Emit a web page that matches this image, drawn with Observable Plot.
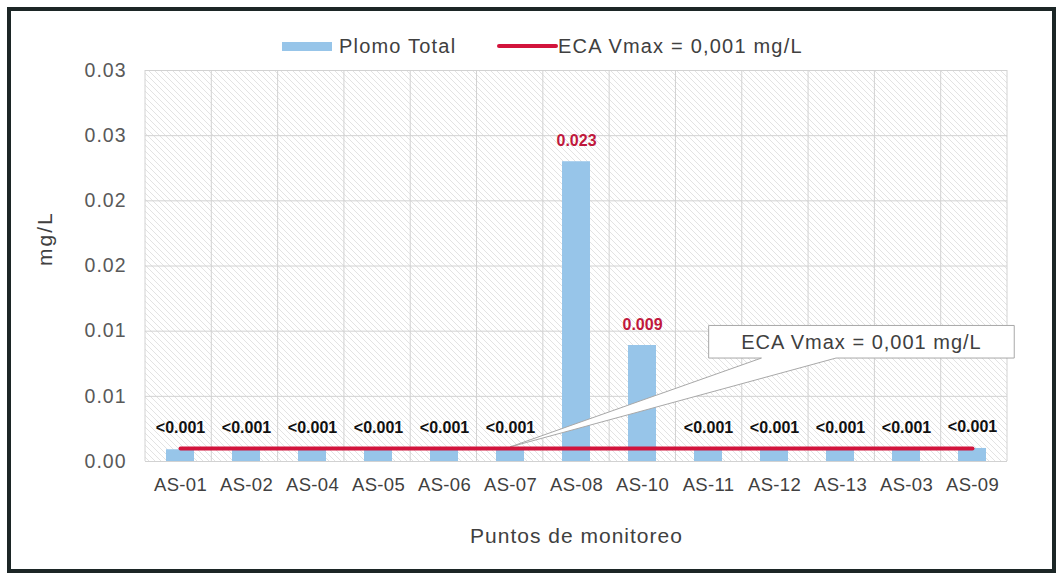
<!DOCTYPE html>
<html>
<head>
<meta charset="utf-8">
<script src="https://cdn.jsdelivr.net/npm/d3@7"></script>
<script src="https://cdn.jsdelivr.net/npm/@observablehq/plot@0.6"></script>
<style>
  html, body { margin: 0; padding: 0; background: #fff; }
  #chart svg { display: block; }
  #chart svg [aria-label="y-axis tick label"] text { letter-spacing: 1px; }
  #chart svg [aria-label="x-axis tick label"] text { letter-spacing: 0.3px; }
</style>
</head>
<body>
<div id="chart"></div>
<script>
// ---- data ----
const puntos = ["AS-01","AS-02","AS-04","AS-05","AS-06","AS-07","AS-08","AS-10","AS-11","AS-12","AS-13","AS-03","AS-09"];
const plomoTotal = [0.0009,0.0009,0.0009,0.0009,0.0009,0.0009,0.0230,0.0089,0.0009,0.0009,0.0009,0.0009,0.0010];
const etiquetas = ["<0.001","<0.001","<0.001","<0.001","<0.001","<0.001","0.023","0.009","<0.001","<0.001","<0.001","<0.001","<0.001"];
const ecaVmax = 0.001;
const yTicks = [0, 0.005, 0.01, 0.015, 0.02, 0.025, 0.03];
const yTickLabels = ["0.00","0.01","0.01","0.02","0.02","0.03","0.03"];
const serieNombre = "Plomo Total";
const ecaNombre = "ECA Vmax = 0,001 mg/L";
const yTitulo = "mg/L";
const xTitulo = "Puntos de monitoreo";

// ---- layout / style ----
const W = 1057, H = 575;
const ml = 145, mr = 50, mt = 70, mb = 114;
const bw = (W - ml - mr) / puntos.length;
const barColor = "#97c5e9";
const redColor = "#d2143c";
const font = "Liberation Sans, Arial, Helvetica, sans-serif";

const data = puntos.map((p, i) => ({punto: p, valor: plomoTotal[i], etiqueta: etiquetas[i]}));
const ecaData = puntos.map(p => ({punto: p, eca: ecaVmax}));

// background hatch + vertical grid at band boundaries
const fondo = (index, scales, values, dim) => {
  const g = d3.create("svg:g");
  const pat = g.append("defs").append("pattern")
    .attr("id", "hatch").attr("patternUnits", "userSpaceOnUse")
    .attr("width", 6).attr("height", 6);
  pat.append("path").attr("d", "M0,0L6,6M-1,5L1,7M5,-1L7,1")
    .attr("stroke", "#e0e0e0").attr("stroke-width", 0.9).attr("fill", "none");
  const x0 = dim.marginLeft, x1 = dim.width - dim.marginRight;
  const y0 = dim.marginTop, y1 = dim.height - dim.marginBottom;
  g.append("rect").attr("x", x0).attr("y", y0).attr("width", x1 - x0).attr("height", y1 - y0)
    .attr("fill", "url(#hatch)");
  const n = puntos.length, step = (x1 - x0) / n;
  for (let i = 0; i <= n; i++) {
    g.append("line").attr("x1", x0 + i * step).attr("x2", x0 + i * step)
      .attr("y1", y0).attr("y2", y1).attr("stroke", "#d2d2d2").attr("stroke-width", 1);
  }
  return g.node();
};

// callout box pointing at the ECA line
const callout = (index, scales, values, dim) => {
  const sx = scales.x, sy = scales.y;
  const bwx = typeof sx.bandwidth === "function" ? sx.bandwidth() : bw;
  const start = sx(puntos[0]);
  const ux = u => start + u * bwx;
  const left = ux(8.51), right = ux(13.14);
  const top = sy(0.0104), bottom = sy(0.0079);
  const bl = ux(9.31), br = ux(10.44);
  const tipX = sx("AS-07") + bwx / 2, tipY = sy(ecaVmax) - 1;
  const g = d3.create("svg:g");
  g.append("path")
    .attr("d", `M${left},${top}L${right},${top}L${right},${bottom}L${br},${bottom}L${tipX},${tipY}L${bl},${bottom}L${left},${bottom}Z`)
    .attr("fill", "#fff").attr("stroke", "#a8a8a8").attr("stroke-width", 1);
  g.append("text").attr("x", (left + right) / 2).attr("y", (top + bottom) / 2)
    .attr("dy", "0.35em").attr("text-anchor", "middle")
    .attr("font-family", font).attr("font-size", 20).attr("letter-spacing", "1px")
    .attr("fill", "#404040").text(ecaNombre);
  return g.node();
};

// legend + outer frame
const leyenda = (index, scales, values, dim) => {
  const g = d3.create("svg:g").attr("text-anchor", "start");
  g.append("rect").attr("x", 9).attr("y", 9).attr("width", W - 12).attr("height", H - 13)
    .attr("fill", "none").attr("stroke", "#1c2626").attr("stroke-width", 4);
  g.append("rect").attr("x", 282).attr("y", 42).attr("width", 50).attr("height", 9).attr("fill", barColor);
  g.append("text").attr("x", 339).attr("y", 46).attr("dy", "0.35em").attr("text-anchor", "start")
    .attr("font-family", font).attr("font-size", 20).attr("letter-spacing", "1.2px")
    .attr("fill", "#404040").text(serieNombre);
  g.append("line").attr("x1", 499).attr("x2", 556).attr("y1", 46).attr("y2", 46)
    .attr("stroke", redColor).attr("stroke-width", 4).attr("stroke-linecap", "round");
  g.append("text").attr("x", 558).attr("y", 46).attr("dy", "0.35em").attr("text-anchor", "start")
    .attr("font-family", font).attr("font-size", 20).attr("letter-spacing", "1.2px")
    .attr("fill", "#404040").text(ecaNombre);
  return g.node();
};

const chart = Plot.plot({
  width: W, height: H,
  marginLeft: ml, marginRight: mr, marginTop: mt, marginBottom: mb,
  style: {background: "#fff", fontFamily: font},
  x: {domain: puntos, padding: 0},
  y: {domain: [0, 0.03]},
  marks: [
    fondo,
    Plot.ruleY(yTicks, {stroke: "#d2d2d2", strokeWidth: 1}),
    Plot.barY(data, {x: "punto", y: "valor", fill: barColor, insetLeft: 19, insetRight: 19}),
    callout,
    Plot.line(ecaData, {x: "punto", y: "eca", stroke: redColor, strokeWidth: 4, strokeLinecap: "round"}),
    Plot.text(data.filter(d => d.etiqueta.startsWith("<")), {x: "punto", y: "valor", text: "etiqueta", dy: -22, fontSize: 16, fontWeight: "bold", fill: "#111"}),
    Plot.text(data.filter(d => !d.etiqueta.startsWith("<")), {x: "punto", y: "valor", text: "etiqueta", dy: -21, fontSize: 16, fontWeight: "bold", fill: "#c0183c"}),
    Plot.axisX({tickSize: 0, tickPadding: 16, fontSize: 18.5, color: "#404040", label: null}),
    Plot.axisY({ticks: yTicks, tickFormat: d => yTickLabels[yTicks.indexOf(d)], tickSize: 0, tickPadding: 19, fontSize: 19.5, color: "#595959", label: null}),
    Plot.text([yTitulo], {frameAnchor: "left", dx: -100, rotate: -90, fontSize: 21, fill: "#404040"}),
    Plot.text([xTitulo], {frameAnchor: "bottom", dy: 81, fontSize: 21, fill: "#404040"}),
    leyenda
  ]
});
document.getElementById("chart").append(chart);
d3.select(chart).selectAll("text").filter(function() { return this.textContent === yTitulo; }).style("letter-spacing", "2px");
d3.select(chart).selectAll("text").filter(function() { return this.textContent === xTitulo; }).style("letter-spacing", "1px");
</script>
</body>
</html>
